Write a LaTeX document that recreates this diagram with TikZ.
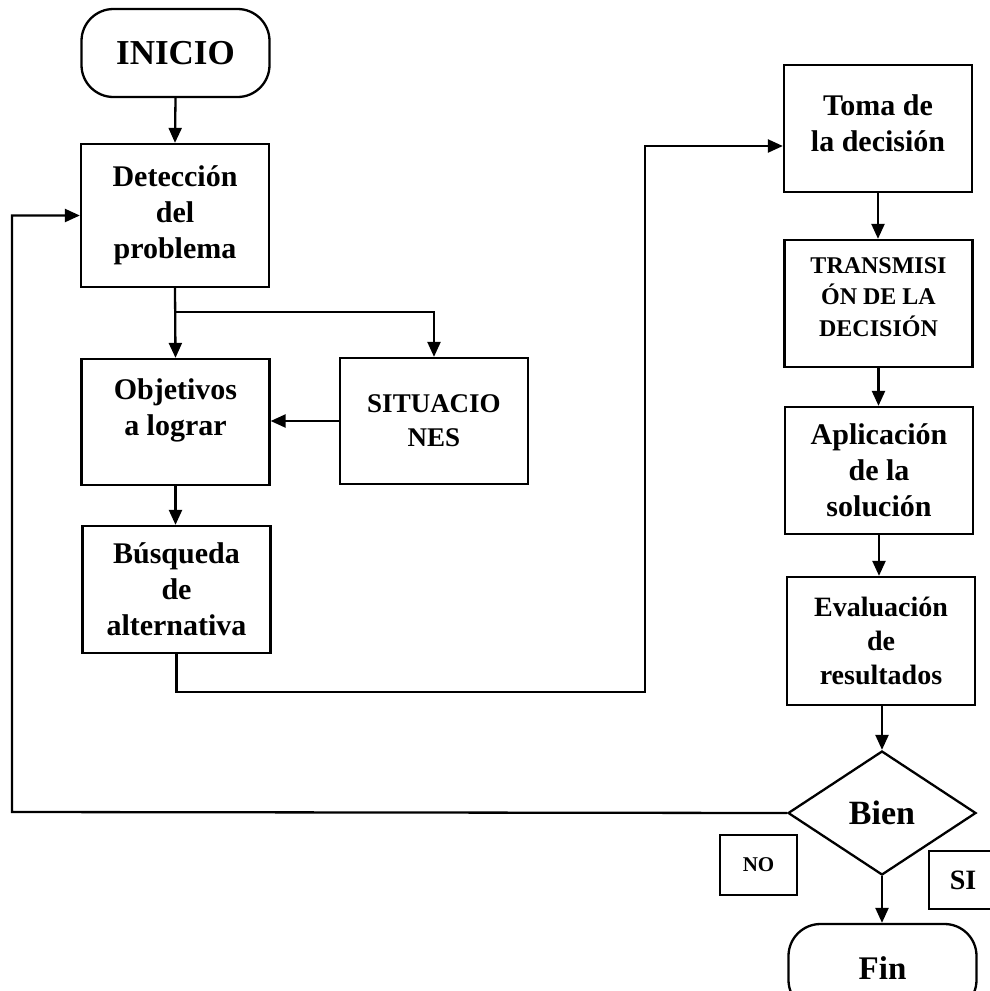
\documentclass[tikz,border=0pt]{standalone}
\usepackage{fontspec}
\setmainfont{Liberation Serif}
\usetikzlibrary{arrows.meta,shapes.geometric}
\newcommand{\fsz}[2]{\bfseries\fontsize{#1}{#2}\selectfont}
\begin{document}
\begin{tikzpicture}[x=1pt,y=-1pt,
  stepbox/.style={draw, line width=2.3pt, minimum width=188pt, minimum height=127pt,
    inner sep=0pt, align=center, font=\fsz{30}{36}},
  plain/.style={inner sep=0pt, align=center, font=\fsz{30}{36}},
  term/.style={draw, line width=2.3pt, rounded corners=32pt, minimum width=188pt,
    minimum height=88pt, inner sep=0pt},
  tag/.style={draw, line width=2.3pt, inner sep=0pt},
  arr/.style={line width=2.3pt, -{Triangle[length=15pt,width=13pt]}}]
\clip (0,0) rectangle (990,991);
\fill[white] (0,0) rectangle (990,991);

% left column
\node[term, font=\fsz{35}{40}] (inicio) at (175.5,53) {INICIO};
\node[stepbox, minimum height=143pt] (det) at (175,215.5) {Detección\\del\\problema};
\node[stepbox, minimum height=126pt] (obj) at (175.5,422) {};
\node[plain] (objt) at (175.5,410) {Objetivos\\a lograr};
\node[stepbox, minimum height=126pt, font=\fsz{27}{34}] (sit) at (434,421) {SITUACIO\\NES};
\node[stepbox] (bus) at (176.5,589.5) {Búsqueda\\de\\alternativa};

% right column
\node[stepbox] (toma) at (878,128.5) {};
\node[plain] (tomat) at (878,123.5) {Toma de\\la decisión};
\node[stepbox] (trans) at (878.5,303.5) {};
\node[plain, font=\fsz{24}{31.5}] (transt) at (878.5,297) {TRANSMISI\\ÓN DE LA\\DECISIÓN};
\node[stepbox] (apl) at (879,470.5) {Aplicación\\de la\\solución};
\node[stepbox, minimum height=128pt, font=\fsz{28}{34}] (eva) at (881,641) {Evaluación\\de\\resultados};
\node[draw, diamond, line width=2.3pt, minimum width=188pt, minimum height=124pt,
  inner sep=0pt, font=\fsz{34}{40}] (dia) at (882,813) {Bien};
\node[term, font=\fsz{33}{40}] (fin) at (882.5,968) {Fin};
\node[tag, minimum width=77pt, minimum height=60pt, font=\fsz{21}{24}] (no) at (758.5,865) {NO};
\node[tag, minimum width=68pt, minimum height=58pt, font=\fsz{28}{32}] (si) at (963,880) {SI};

% junction points of the connectors
\coordinate (br) at (175,312);
\coordinate (low) at (645,692);
\coordinate (fb) at (12,812);

% connectors
\draw[arr] (inicio.south) -- (det.north);
\draw[arr] (det.south) -- (obj.north);
\draw[arr] (br) -| (sit.north);
\draw[arr] (sit.west) -- (obj.east |- sit.west);
\draw[arr] (obj.south) -- (bus.north -| obj.south);
\draw[arr] (bus.south) |- (low) |- ([yshift=-17.5pt]toma.west);
\draw[arr] (toma.south) -- (trans.north -| toma.south);
\draw[arr] (trans.south) -- (apl.north -| trans.south);
\draw[arr] (apl.south) -- (eva.north -| apl.south);
\draw[arr] (eva.south -| dia.north) -- (dia.north);
\draw[arr] (dia.south) -- (fin.north -| dia.south);
\draw[arr] (dia.west) -- (fb) |- (det.west);
\end{tikzpicture}
\end{document}
